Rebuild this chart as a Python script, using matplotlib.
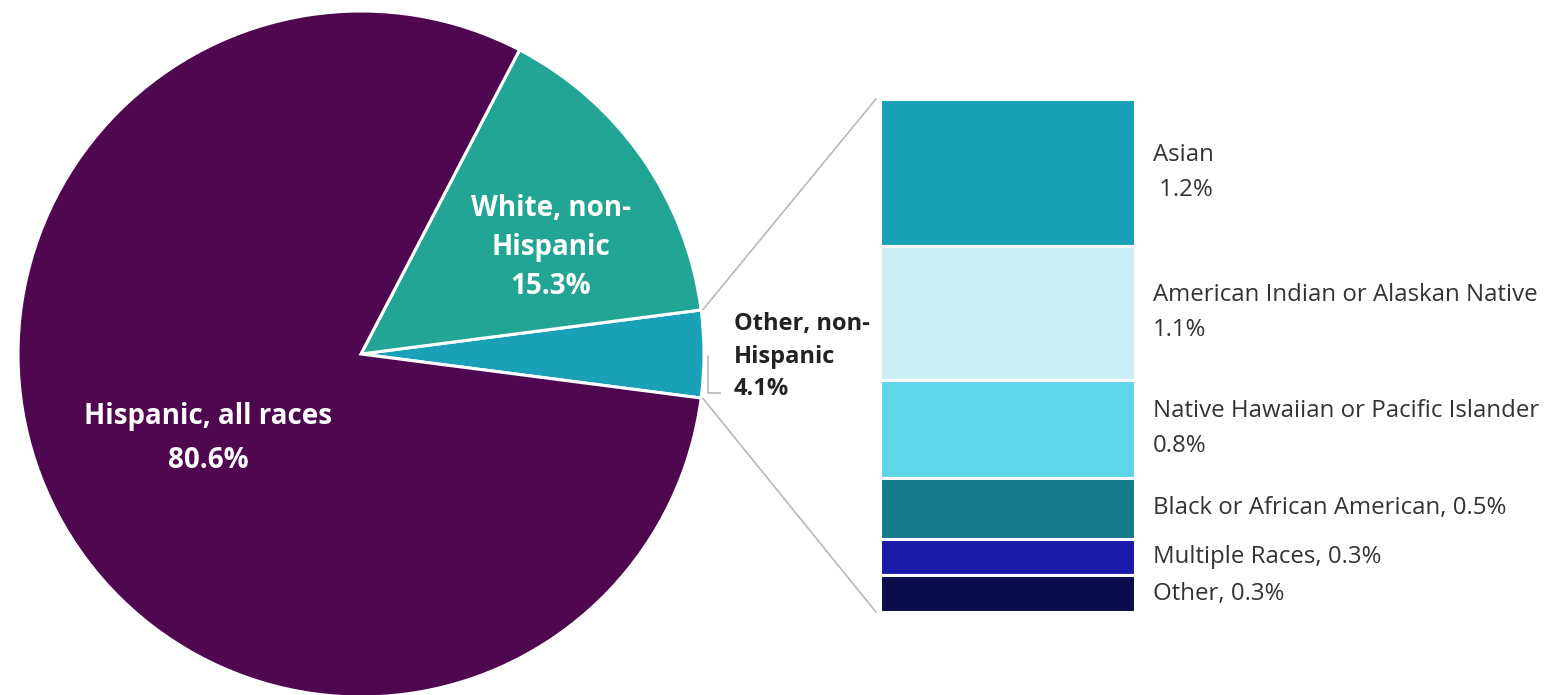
import numpy as np
import matplotlib.pyplot as plt
from matplotlib.patches import ConnectionPatch

plt.rcParams['font.family'] = ['Open Sans', 'DejaVu Sans']

# Main split (counter-clockwise from the start angle)
groups = ['Other, non-\nHispanic', 'White, non-\nHispanic', 'Hispanic, all races']
shares = [4.1, 15.3, 80.6]
group_colors = ['#1ba1b7', '#23a595', '#4f0850']

# Breakdown of "Other, non-Hispanic", listed from the top of the bar down
sub_labels = ['Asian\n 1.2%', 'American Indian or Alaskan Native\n1.1%',
              'Native Hawaiian or Pacific Islander\n0.8%',
              'Black or African American, 0.5%', 'Multiple Races, 0.3%',
              'Other, 0.3%']
sub_values = [1.2, 1.1, 0.8, 0.5, 0.3, 0.3]
sub_colors = ['#1ba1b7', '#caf0f6', '#5fd5e8', '#157a8a', '#1a1aaa', '#0a0d4a']

W, H = 1558, 695
fig = plt.figure(figsize=(W / 100, H / 100), dpi=100)

# pie centred at (361, 354) px with radius 343 px
cx, cy, r = 361, 354, 343
ax = fig.add_axes([(cx - r) / W, (H - cy - r) / H, 2 * r / W, 2 * r / H])
start = -shares[0] / 100 * 360 / 2
wedges, _ = ax.pie(shares, colors=group_colors, startangle=start,
                   radius=1, counterclock=True,
                   wedgeprops=dict(edgecolor='white', linewidth=2.2))
ax.set_xlim(-1, 1)
ax.set_ylim(-1, 1)
ax.set_aspect('auto')
ax.axis('off')

ax.text(-0.446, -0.245, f'{groups[2]}\n{shares[2]}%', color='white',
        ha='center', va='center', fontsize=20, fontweight='bold',
        linespacing=1.68)
ax.text(0.554, 0.31, f'{groups[1]}\n{shares[1]}%', color='white',
        ha='center', va='center', fontsize=20, fontweight='bold',
        linespacing=1.44)
ax.text(1.087, -0.008, f'{groups[0]}\n{shares[0]}%', color='#222222',
        ha='left', va='center', fontsize=17, fontweight='bold',
        linespacing=1.48, clip_on=False)
ax.plot([1.011, 1.011, 1.047], [-0.006, -0.113, -0.113], color='#b8b8b8',
        lw=1.2, clip_on=False)

# stacked bar for the breakdown
total = sum(sub_values)
bx = fig.add_axes([880 / W, (H - 612) / H, 255 / W, 513 / H])
top = total
for val, col, lab in zip(sub_values, sub_colors, sub_labels):
    bx.bar(0.5, val, width=1, bottom=top - val, color=col,
           edgecolor='white', linewidth=2.2)
    bx.text(1.07, top - val / 2, lab, ha='left', va='center',
            fontsize=17.3, color='#333333', linespacing=1.6,
            transform=bx.get_yaxis_transform(), clip_on=False)
    top -= val
bx.set_xlim(0, 1)
bx.set_ylim(0, total)
bx.axis('off')

# connector lines from the small wedge to the bar
w = wedges[0]
for ang, yb in [(w.theta2, total), (w.theta1, 0)]:
    t = np.deg2rad(ang)
    con = ConnectionPatch(xyA=(np.cos(t) * 1.005, np.sin(t) * 1.005),
                          coordsA=ax.transData,
                          xyB=(-0.016, yb), coordsB=bx.transData,
                          color='#b8b8b8', lw=1.2)
    fig.add_artist(con)

fig.savefig('out.png', dpi=100, facecolor='white')
